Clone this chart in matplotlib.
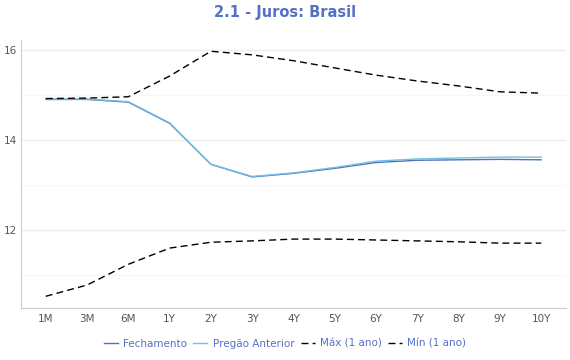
import matplotlib.pyplot as plt
import numpy as np

tenors = ["1M", "3M", "6M", "1Y", "2Y", "3Y", "4Y", "5Y", "6Y", "7Y", "8Y", "9Y", "10Y"]
fechamento = [14.90, 14.90, 14.84, 14.37, 13.46, 13.18, 13.26, 13.37, 13.50, 13.55, 13.56, 13.57, 13.56]
pregao_anterior = [14.91, 14.91, 14.85, 14.38, 13.46, 13.19, 13.27, 13.39, 13.53, 13.58, 13.60, 13.62, 13.62]
maximo = [14.92, 14.93, 14.96, 15.42, 15.97, 15.89, 15.76, 15.60, 15.44, 15.31, 15.20, 15.07, 15.04]
minimo = [10.53, 10.78, 11.24, 11.60, 11.73, 11.76, 11.80, 11.80, 11.78, 11.76, 11.74, 11.71, 11.71]

blue = "#5470c6"
cyan = "#73c0de"

fig = plt.figure(figsize=(5.7, 3.6), dpi=100)
ax = fig.add_axes([21 / 570, 1 - 308 / 360, 545 / 570, 268 / 360])

x = np.arange(len(tenors))
ax.plot(x, fechamento, color=blue, lw=1, label="Fechamento")
ax.plot(x, pregao_anterior, color=cyan, lw=1, label="Pregão Anterior")
ax.plot(x, maximo, color="black", lw=1, ls=(0, (5, 3)), label="Máx (1 ano)")
ax.plot(x, minimo, color="black", lw=1, ls=(0, (5, 3)), label="Mín (1 ano)")

ax.set_xlim(-0.6, 12.6)
ax.set_ylim(10.27, 16.22)
ax.set_xticks(x)
ax.set_xticklabels(tenors)
ax.set_yticks([12, 14, 16])
ax.set_yticks([11, 13, 15], minor=True)
ax.grid(axis="y", which="major", color="#eeeeee", lw=1)
ax.grid(axis="y", which="minor", color="#f6f6f6", lw=1)
ax.set_axisbelow(True)
ax.tick_params(axis="both", which="both", length=0, labelsize=7.5, labelcolor="#555555", pad=4)
ax.tick_params(axis="y", pad=3)
for s in ["top", "right"]:
    ax.spines[s].set_visible(False)
for s in ["left", "bottom"]:
    ax.spines[s].set_color("#cccccc")

fig.text(0.5, 1 - 12 / 360, "2.1 - Juros: Brasil", ha="center", va="center",
         fontsize=10.5, fontweight="bold", color=blue)

leg = fig.legend(loc="center", bbox_to_anchor=(0.5, 1 - 344 / 360), ncol=4, frameon=False,
                 fontsize=7.5, handlelength=1.35, handletextpad=0.5, columnspacing=0.6)
for t in leg.get_texts():
    t.set_color(blue)

fig.savefig("out.png", dpi=100)
